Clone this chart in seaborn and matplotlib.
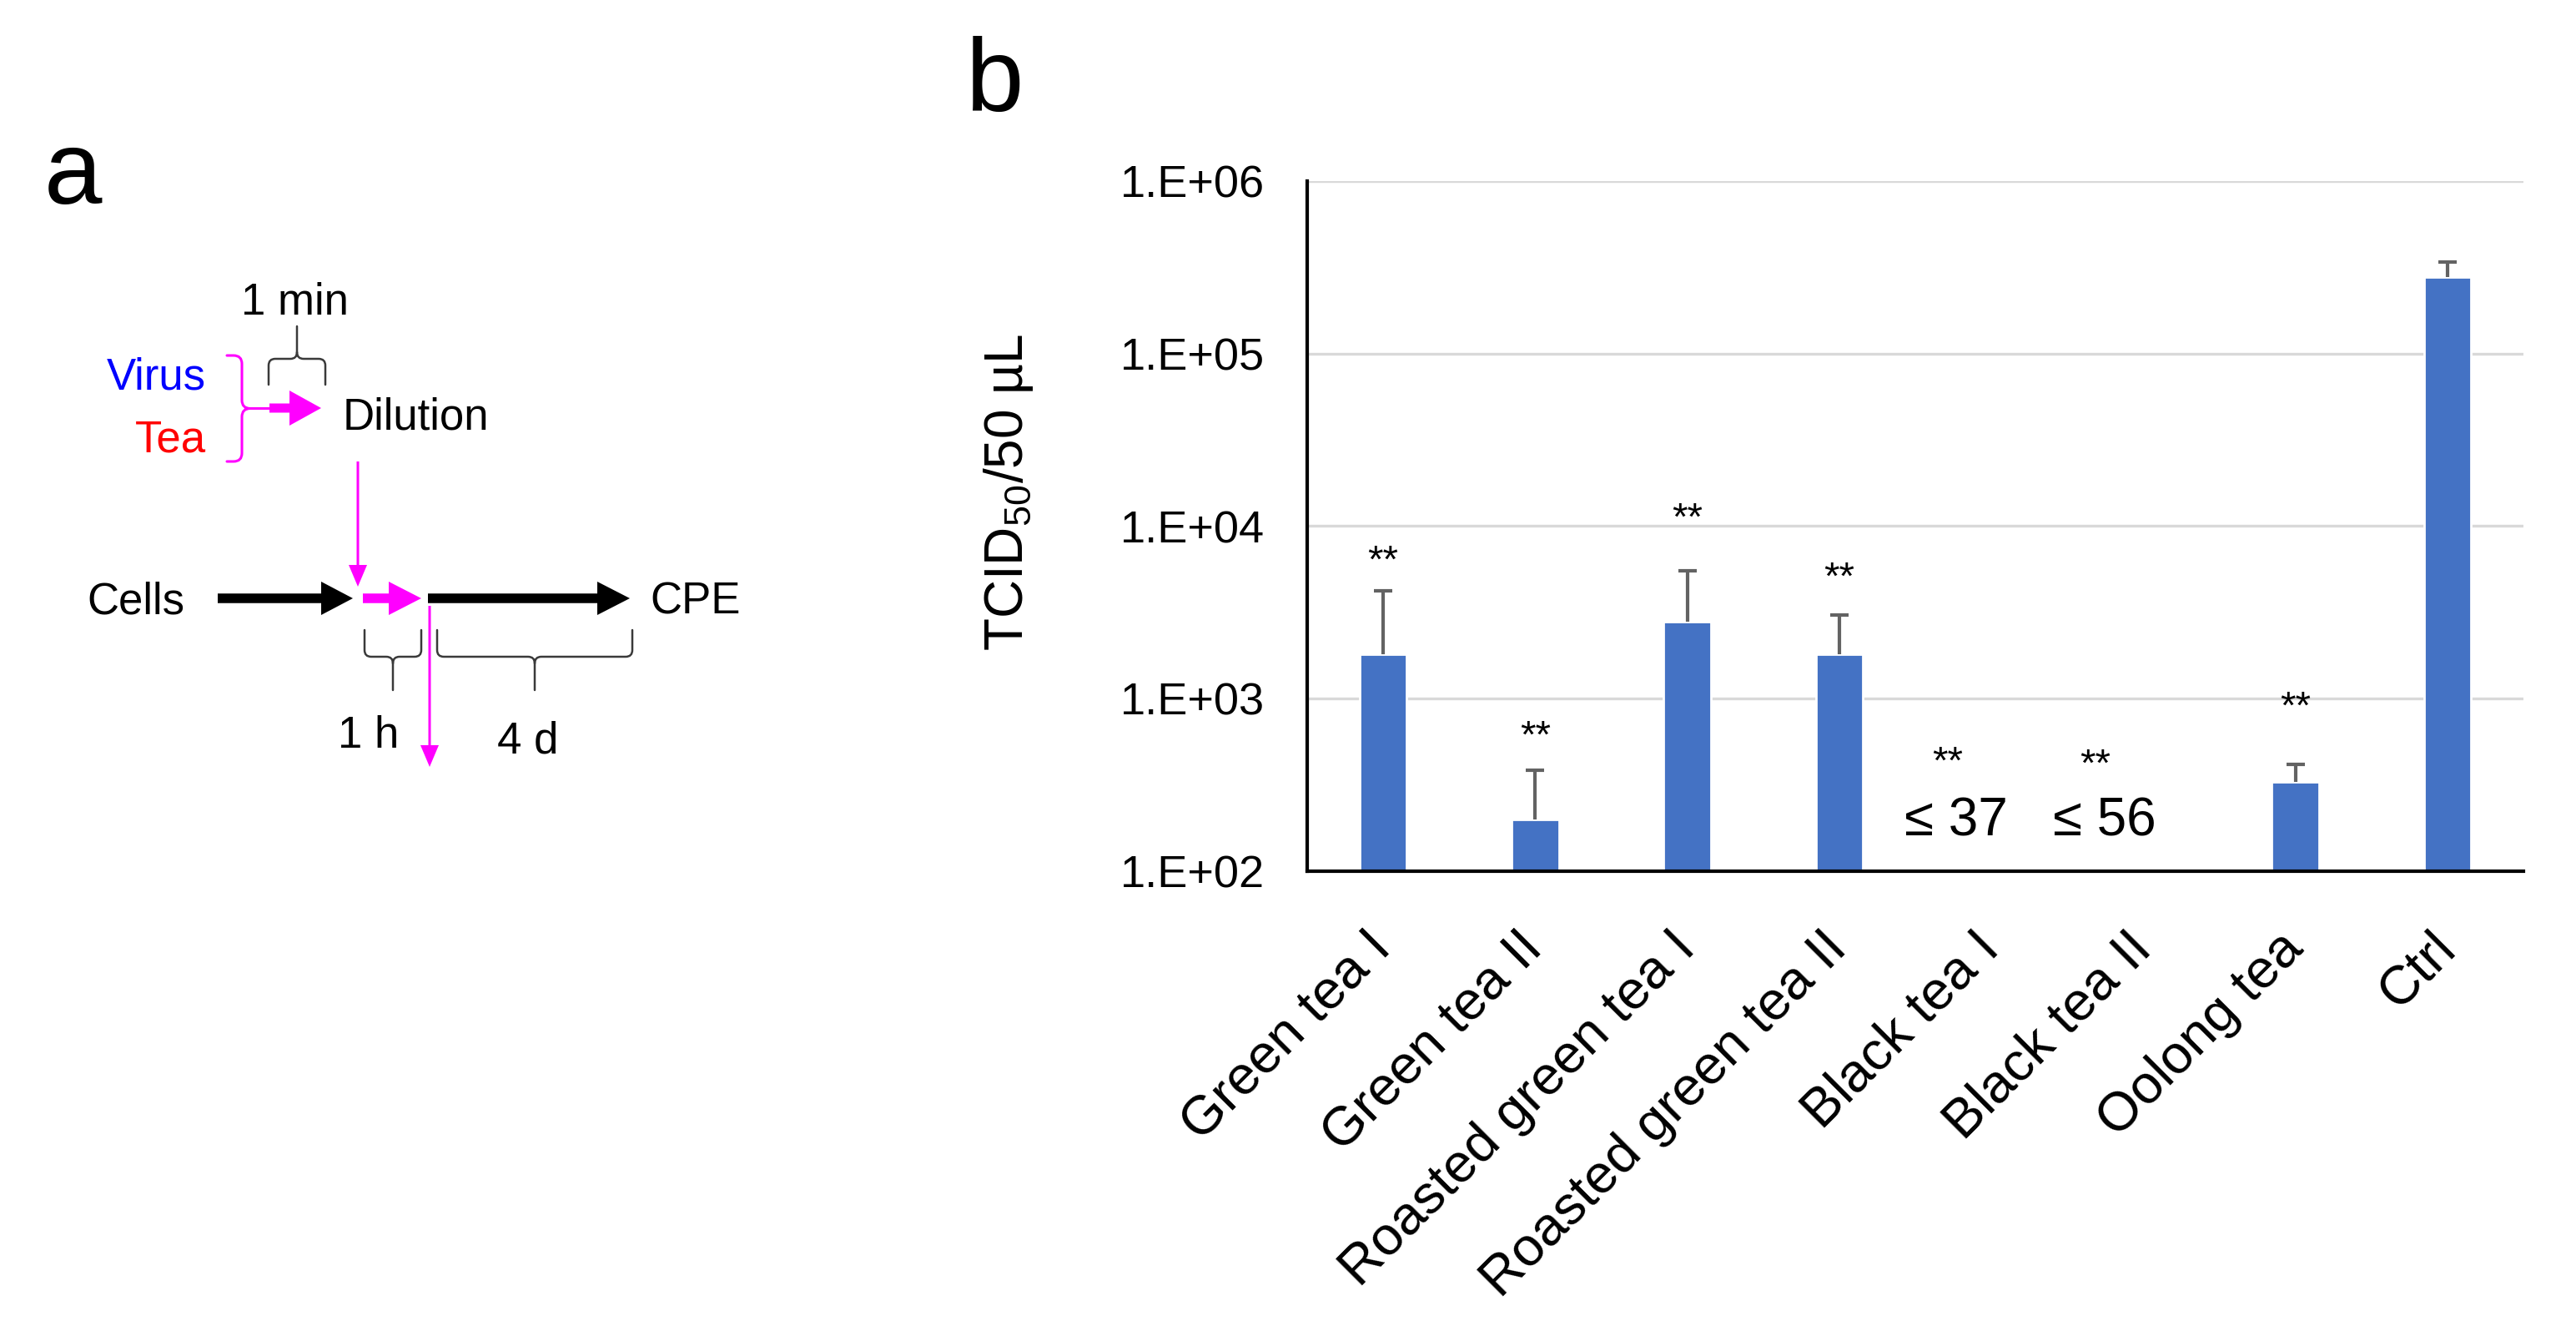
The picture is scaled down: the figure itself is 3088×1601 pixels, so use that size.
import numpy as np
import pandas as pd
import matplotlib
matplotlib.use("Agg")
import matplotlib.pyplot as plt
import seaborn as sns
from matplotlib.path import Path
from matplotlib.patches import PathPatch, FancyArrow
from matplotlib import transforms

# ---------------- data ----------------
categories = ["Green tea I", "Green tea II", "Roasted green tea I", "Roasted green tea II",
              "Black tea I", "Black tea II", "Oolong tea", "Ctrl"]
titer_mean = [1800, 200, 2800, 1800, np.nan, np.nan, 330, 278000]
titer_upper = [4200, 385, 5500, 3050, np.nan, np.nan, 415, 340000]
star_labels = ["**", "**", "**", "**", "**", "**", "**", ""]
star_y = [7300, 710, 13000, 5850, 500, 485, 1045, np.nan]
limit_labels = ["", "", "", "", "\u2264 37", "\u2264 56", "", ""]
limit_y = [np.nan, np.nan, np.nan, np.nan, 208, 208, np.nan, np.nan]
ytick_values = [1e2, 1e3, 1e4, 1e5, 1e6]
ytick_labels = ["1.E+02", "1.E+03", "1.E+04", "1.E+05", "1.E+06"]
ylabel_text = r"TCID$_{\mathrm{50}}$/50 µL"

# annotation x shifts (pixels) -- style only
star_dx_px = [0, 0, 0, 0, -52, -58, 0, 0]
limit_dx_px = [0, 0, 0, 0, -42, -47, 0, 0]

W, H, DPI = 3088, 1601, 200
BAR_COLOR = "#4472C4"

sns.set_style("white")
plt.rcParams["font.family"] = ["Liberation Sans", "DejaVu Sans"]
plt.rcParams["mathtext.fontset"] = "custom"
plt.rcParams["mathtext.rm"] = "Liberation Sans"
plt.rcParams["mathtext.it"] = "Liberation Sans:italic"
plt.rcParams["mathtext.bf"] = "Liberation Sans:bold"
for key in ["text.color", "axes.labelcolor", "xtick.color", "ytick.color"]:
    plt.rcParams[key] = "black"

fig = plt.figure(figsize=(W / DPI, H / DPI), dpi=DPI)
fig.patch.set_facecolor("white")

# ---------------- panel a (schematic) ----------------
ax0 = fig.add_axes([0, 0, 1, 1])
ax0.set_xlim(0, W)
ax0.set_ylim(H, 0)
ax0.axis("off")

MAG = "#FF00FF"
BR = "#3a3a3a"


def brace(ax, a0, a1, end, bar, tip, r, color, lw, vertical=False):
    """Curly brace; a0..a1 along the long direction, legs at `end`, bar at `bar`, tip at `tip`."""
    m = (a0 + a1) / 2.0
    s = np.sign(tip - bar)
    def P(a, b):
        return (b, a) if vertical else (a, b)
    verts = [P(a0, end), P(a0, bar - s * r), P(a0, bar), P(a0 + r, bar),
             P(m - r, bar), P(m, bar), P(m, bar + s * r), P(m, tip),
             P(a1, end), P(a1, bar - s * r), P(a1, bar), P(a1 - r, bar),
             P(m + r, bar), P(m, bar), P(m, bar + s * r)]
    codes = [Path.MOVETO, Path.LINETO, Path.CURVE3, Path.CURVE3,
             Path.LINETO, Path.CURVE3, Path.CURVE3, Path.LINETO,
             Path.MOVETO, Path.LINETO, Path.CURVE3, Path.CURVE3,
             Path.LINETO, Path.CURVE3, Path.CURVE3]
    ax.add_patch(PathPatch(Path(verts, codes), fill=False, edgecolor=color, lw=lw,
                           capstyle="round", joinstyle="round"))


def arrow(ax, x0, y0, x1, y1, width, hw, hl, color):
    ax.add_patch(FancyArrow(x0, y0, x1 - x0, y1 - y0, width=width, head_width=hw,
                            head_length=hl, length_includes_head=True,
                            color=color, lw=0))


FS_A = 19
ax0.text(53, 244, "a", fontsize=45, ha="left", va="baseline")
ax0.text(353, 377, "1 min", fontsize=FS_A, ha="center", va="baseline")
ax0.text(247, 466, "Virus", fontsize=FS_A, ha="right", va="baseline", color="#0000FF")
ax0.text(247, 541, "Tea", fontsize=FS_A, ha="right", va="baseline", color="#FF0000")
ax0.text(411, 514, "Dilution", fontsize=FS_A, ha="left", va="baseline")
ax0.text(163, 735, "Cells", fontsize=FS_A, ha="center", va="baseline")
ax0.text(834, 735, "CPE", fontsize=FS_A, ha="center", va="baseline")
ax0.text(442, 896, "1 h", fontsize=FS_A, ha="center", va="baseline")
ax0.text(633, 902, "4 d", fontsize=FS_A, ha="center", va="baseline")

brace(ax0, 322, 390, 461, 430, 391, 8, BR, 0.9)
brace(ax0, 426, 553, 272, 290, 326, 10, MAG, 1.1, vertical=True)
brace(ax0, 437, 505, 755, 787, 827, 8, BR, 0.9)
brace(ax0, 524, 758, 755, 787, 827, 8, BR, 0.9)

arrow(ax0, 323, 489, 385, 489, 11, 42, 38, MAG)
arrow(ax0, 429, 553, 429, 703, 3, 22, 26, MAG)
arrow(ax0, 261, 717, 423, 717, 11.5, 40, 38, "black")
arrow(ax0, 435, 717, 505, 717, 11.5, 40, 39, MAG)
arrow(ax0, 513, 717, 755, 717, 11.5, 40, 39, "black")
arrow(ax0, 515, 726, 515, 919, 3, 22, 26, MAG)

# ---------------- panel b (bar chart) ----------------
L, R, T, B = 1567, 3025, 217, 1044
ax = fig.add_axes([L / W, 1 - B / H, (R - L) / W, (B - T) / H])
ax.set_yscale("log")

df = pd.DataFrame({"tea": categories, "titer": titer_mean})
sns.barplot(data=df, x="tea", y="titer", order=categories, color=BAR_COLOR,
            saturation=1, width=0.31, errorbar=None, ax=ax, zorder=2)

pos = np.arange(len(categories))
means = np.array(titer_mean, dtype=float)
upper = np.array(titer_upper, dtype=float)
eb = ax.errorbar(pos, means, yerr=[np.zeros_like(means), upper - means], fmt="none",
                 ecolor="#636363", elinewidth=1.5, capsize=4, capthick=1.5, zorder=3)
# keep only the upper caps (one-sided error bars)
m_f = means[np.isfinite(means)]
for cap in eb[1]:
    yd = np.asarray(cap.get_ydata(), dtype=float)
    yd_f = yd[np.isfinite(yd)]
    if yd_f.size == m_f.size and np.allclose(yd_f, m_f):
        cap.set_visible(False)

ax.set_ylim(1e2, 1e6)
ax.set_xlim(-0.5, len(categories) - 0.5)
ax.yaxis.set_major_locator(matplotlib.ticker.FixedLocator(ytick_values))
ax.yaxis.set_minor_locator(matplotlib.ticker.NullLocator())
ax.set_yticks(ytick_values)
ax.set_yticklabels(ytick_labels, fontsize=19.5)
ax.tick_params(axis="y", length=0, pad=18.5)
ax.tick_params(axis="x", length=0, pad=30)
ax.set_xticks(pos)
ax.set_xticklabels(categories, fontsize=23.5, rotation=45, ha="right", va="center",
                   rotation_mode="anchor")
ax.set_xlabel("")
ax.set_ylabel(ylabel_text, fontsize=23)
ax.yaxis.set_label_coords(-0.2236, 0.549)

ax.yaxis.grid(True, color="#D9D9D9", lw=1.2, zorder=0)
ax.xaxis.grid(False)
ax.set_axisbelow(True)
for side in ["top", "right"]:
    ax.spines[side].set_visible(False)
for side in ["left", "bottom"]:
    ax.spines[side].set_color("black")
    ax.spines[side].set_linewidth(1.5)
    ax.spines[side].set_zorder(4)

PX2PT = 72.0 / DPI
FS_STAR = 17
FS_LIM = 23
for i, (lab, yv) in enumerate(zip(star_labels, star_y)):
    if lab and not np.isnan(yv):
        tr = transforms.offset_copy(ax.transData, fig=fig, x=star_dx_px[i] * PX2PT,
                                    y=-0.58 * FS_STAR, units="points")
        ax.text(pos[i], yv, lab, fontsize=FS_STAR, ha="center", va="baseline",
                transform=tr, zorder=5)
for i, (lab, yv) in enumerate(zip(limit_labels, limit_y)):
    if lab and not np.isnan(yv):
        tr = transforms.offset_copy(ax.transData, fig=fig, x=limit_dx_px[i] * PX2PT,
                                    y=-0.358 * FS_LIM, units="points")
        ax.text(pos[i], yv, lab, fontsize=FS_LIM, ha="center", va="baseline",
                transform=tr, zorder=5)

fig.text(1158 / W, 1 - 133 / H, "b", fontsize=45, ha="left", va="baseline")

fig.savefig("out.png", dpi=DPI, facecolor="white")
